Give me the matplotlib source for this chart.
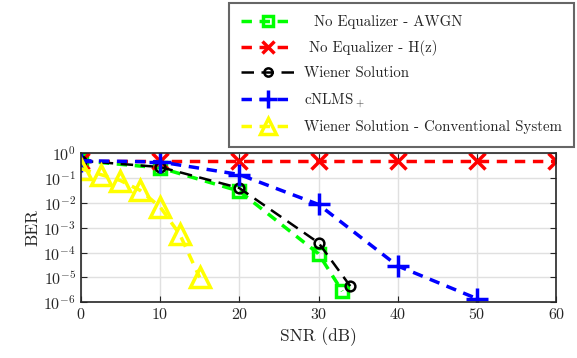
import matplotlib
matplotlib.use("Agg")
import matplotlib.pyplot as plt

plt.rcParams['font.family'] = 'serif'
plt.rcParams['font.serif'] = ['cmr10', 'DejaVu Serif']
plt.rcParams['mathtext.fontset'] = 'cm'
plt.rcParams['axes.formatter.use_mathtext'] = True

# Data
snr_awgn = [0, 10, 20, 30, 33]
ber_awgn = [0.5, 0.26, 0.03, 9e-5, 2.8e-6]

snr_hz = [0, 10, 20, 30, 40, 50, 60]
ber_hz = [0.5, 0.5, 0.5, 0.5, 0.5, 0.5, 0.5]

snr_wiener = [0, 10, 20, 30, 34]
ber_wiener = [0.5, 0.28, 0.04, 2.5e-4, 4.5e-6]

snr_cnlms = [0, 10, 20, 30, 40, 50]
ber_cnlms = [0.5, 0.45, 0.14, 8.7e-3, 2.9e-5, 1.4e-6]

snr_conv = [0, 2.5, 5, 7.5, 10, 12.5, 15]
ber_conv = [0.24, 0.14, 0.08, 0.032, 7e-3, 5.4e-4, 1e-5]

labels = ['  No Equalizer - AWGN', ' No Equalizer - H(z)', 'Wiener Solution',
          'cNLMS$_+$', 'Wiener Solution - Conventional System']
xticks = [0, 10, 20, 30, 40, 50, 60]

fig = plt.figure(figsize=(5.77, 3.58), dpi=100)
ax = fig.add_axes([0.140, 0.1556, 0.824, 0.4162])

dash = (0, (3, 2.2))
ax.plot(snr_awgn, ber_awgn, color='#00FF00', ls=dash, lw=2.5, marker='s', ms=9,
        mfc='none', mew=2.5, label=labels[0])
ax.plot(snr_hz, ber_hz, color='#FF0000', ls=dash, lw=2.5, marker='x', ms=11,
        mew=2.5, label=labels[1])
ax.plot(snr_wiener, ber_wiener, color='black', ls=(0, (5, 3)), lw=1.8, marker='o', ms=7,
        mfc='none', mew=1.8, label=labels[2])
ax.plot(snr_cnlms, ber_cnlms, color='#0000FF', ls=dash, lw=2.5, marker='+', ms=16,
        mew=2.5, label=labels[3])
ax.plot(snr_conv, ber_conv, color='#FFFF00', ls=dash, lw=2.5, marker='^', ms=14,
        mfc='none', mew=2.5, label=labels[4])

ax.set_yscale('log')
ax.set_xlim(0, 60)
ax.set_ylim(1e-6, 1)
ax.set_xticks(xticks)
ax.set_yticks([1, 1e-1, 1e-2, 1e-3, 1e-4, 1e-5, 1e-6])
ax.minorticks_off()
ax.grid(True, color='#E0E0E0', lw=1)
ax.set_axisbelow(True)
ax.tick_params(direction='in', top=True, right=True, labelsize=11.5,
               colors='#262626', length=4)
for s in ax.spines.values():
    s.set_color('#262626')
    s.set_linewidth(1.2)
ax.set_xlabel('SNR (dB)', fontsize=12.5, color='#262626')
ax.set_ylabel('BER', fontsize=12.5, color='#262626', labelpad=2)

leg = fig.legend(loc='upper right', bbox_to_anchor=(0.998, 0.997), fontsize=10.7,
                 frameon=True, fancybox=False, edgecolor='#404040',
                 handlelength=3.6, handletextpad=0.6, labelspacing=0.72,
                 borderpad=0.85, borderaxespad=0.1, markerscale=0.85)
leg.get_frame().set_linewidth(1.5)
for t in leg.get_texts():
    t.set_color('#262626')

fig.savefig('out.png', dpi=100)
